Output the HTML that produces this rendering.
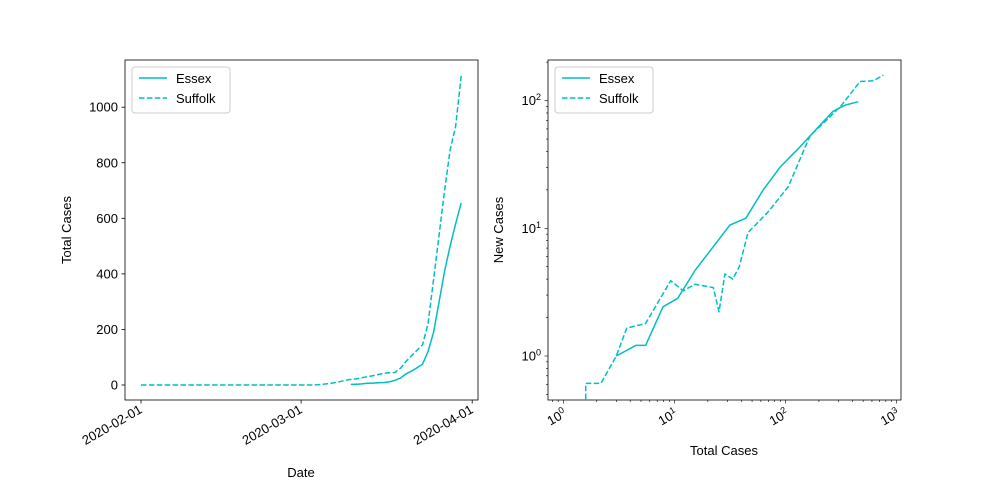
<!DOCTYPE html>
<html><head><meta charset="utf-8"><style>
body{margin:0;background:#fff}
svg{display:block;font-family:"Liberation Sans","DejaVu Sans",sans-serif}
</style></head><body>
<svg id="fig" width="1000" height="500" viewBox="0 0 1000 500">
<rect width="1000" height="500" fill="#fff"/>
</svg>
<script>
// ---- Left chart data (daily cumulative cases, day index from 2020-02-01) ----
const suffolkDays = [0,5,10,15,20,25,30,31,32,33,34,35,36,37,38,39,40,41,42,43,44,45,46,47,48,49,50,51,52,53,54,55,56,57,58];
const suffolkTotals = [0,0,0,0,0,0,0,0,1,3,5,8,12,17,20,22,26,30,33,38,42,44,45,60,85,105,125,144,220,380,540,700,846,930,1113];
const essexDays = [38,39,40,41,42,43,44,45,46,47,48,49,50,51,52,53,54,55,56,57,58];
const essexTotals = [2,3,4,6,7,8,9,11,17,25,40,50,62,75,120,190,300,410,500,580,656];
const leftYTicks = [0,200,400,600,800,1000];
const leftXTickDays = [0,29,60];
const leftXTickLabels = ["2020-02-01","2020-03-01","2020-04-01"];
// ---- Right chart data (total vs new, log-log) ----
const essexLogTotal = [3.0,4.5,5.5,7.9,10.7,15.3,31.6,44,63,89,130,266,343,452];
const essexLogNew = [1.0,1.21,1.21,2.43,2.83,4.66,10.6,12,20,30,42,82,92,98];
const suffolkLogTotal = [1.59,1.59,2.18,3.0,3.72,5.5,9.27,12,15.3,22.4,25.2,28.5,33.5,38.4,46,70,106,166,243,320,468,617,760];
const suffolkLogNew = [0.3,0.61,0.61,1.0,1.65,1.8,3.89,3.24,3.64,3.43,2.22,4.39,4.0,5.0,9.25,13.5,21.2,53,72.6,92,141,143,158];
const rightXDecades = [0,1,2,3];
const rightYDecades = [0,1,2];

const NS="http://www.w3.org/2000/svg";
const svg=document.getElementById('fig');
function mk(tag,attrs,parent){const e=document.createElementNS(NS,tag);for(const k in attrs)e.setAttribute(k,attrs[k]);(parent||svg).appendChild(e);return e;}
const C="#00bfbf";

// Left axes
const L={x0:125,x1:478,y0:60,y1:400};
const lx=d=>141+d*5.52;
const ly=v=>385-v*0.2778;
const gL=mk('g',{});


const cpl=mk('clipPath',{id:'cl'},gL);mk('rect',{x:L.x0,y:L.y0,width:L.x1-L.x0,height:L.y1-L.y0},cpl);
function poly(xs,ys,fx,fy,dash,parent,clip,name){
  const pts=xs.map((x,i)=>fx(x).toFixed(1)+','+fy(ys[i]).toFixed(1)).join(' ');
  const p=mk('polyline',{points:pts,fill:'none',stroke:C,'stroke-width':1.5,'stroke-linejoin':'round','stroke-dasharray':dash?'5.5,2.4':'none','clip-path':'url(#'+clip+')'},parent);
  
  
}
poly(essexDays,essexTotals,lx,ly,false,gL,'cl','essex-line');
poly(suffolkDays,suffolkTotals,lx,ly,true,gL,'cl','suffolk-line');
const frL=mk('rect',{x:L.x0,y:L.y0,width:L.x1-L.x0,height:L.y1-L.y0,fill:'none',stroke:'#000','stroke-width':0.8},gL);


leftYTicks.forEach(v=>{
  const y=ly(v);
  mk('line',{x1:L.x0-3.5,x2:L.x0,y1:y,y2:y,stroke:'#000','stroke-width':0.8},gL);
  const t=mk('text',{x:L.x0-7,y:y+4.5,'text-anchor':'end','font-size':13},gL);t.textContent=v;
  
  
});
leftXTickDays.forEach((d,i)=>{
  const x=lx(d);
  mk('line',{x1:x,x2:x,y1:L.y1,y2:L.y1+3.5,stroke:'#000','stroke-width':0.8},gL);
  const t=mk('text',{x:x+2,y:L.y1+12,'text-anchor':'end','font-size':13,transform:`rotate(-30 ${x+2} ${L.y1+12})`},gL);t.textContent=leftXTickLabels[i];
  
  
});
let t=mk('text',{x:301,y:477,'text-anchor':'middle','font-size':13},gL);t.textContent='Date';


t=mk('text',{x:71,y:230,'text-anchor':'middle','font-size':13,transform:'rotate(-90 71 230)'},gL);t.textContent='Total Cases';



// Right axes
const R={x0:548,x1:901,y0:60,y1:400};
const rx=v=>563.3+Math.log10(v)*111.1;
const ry=v=>356-Math.log10(v)*127.7;
const gR=mk('g',{});


const cp=mk('clipPath',{id:'cr'},gR);mk('rect',{x:R.x0,y:R.y0,width:R.x1-R.x0,height:R.y1-R.y0},cp);
poly(essexLogTotal,essexLogNew,rx,ry,false,gR,'cr','essex-log-line');
poly(suffolkLogTotal,suffolkLogNew,rx,ry,true,gR,'cr','suffolk-log-line');
const frR=mk('rect',{x:R.x0,y:R.y0,width:R.x1-R.x0,height:R.y1-R.y0,fill:'none',stroke:'#000','stroke-width':0.8},gR);


for(let d=-1;d<=3;d++)for(let m=1;m<10;m++){
  const v=m*Math.pow(10,d);const x=rx(v);if(x<R.x0||x>R.x1)continue;
  mk('line',{x1:x,x2:x,y1:R.y1,y2:R.y1+(m==1?3.5:2),stroke:'#000','stroke-width':0.6},gR);
}
for(let d=-1;d<=2;d++)for(let m=1;m<10;m++){
  const v=m*Math.pow(10,d);const y=ry(v);if(y<R.y0||y>R.y1)continue;
  mk('line',{x1:R.x0-(m==1?3.5:2),x2:R.x0,y1:y,y2:y,stroke:'#000','stroke-width':0.6},gR);
}
rightXDecades.forEach(d=>{
  const x=rx(Math.pow(10,d));
  const tt=mk('text',{x:x+4,y:R.y1+16,'text-anchor':'end','font-size':13,transform:`rotate(-30 ${x+4} ${R.y1+16})`},gR);
  tt.innerHTML='10<tspan dy="-5" font-size="9">'+d+'</tspan>';
  
  
});
rightYDecades.forEach(d=>{
  const y=ry(Math.pow(10,d));
  const tt=mk('text',{x:R.x0-7,y:y+4.5,'text-anchor':'end','font-size':13},gR);
  tt.innerHTML='10<tspan dy="-5" font-size="9">'+d+'</tspan>';
  
  
});
t=mk('text',{x:724,y:455,'text-anchor':'middle','font-size':13},gR);t.textContent='Total Cases';


t=mk('text',{x:503,y:230,'text-anchor':'middle','font-size':13,transform:'rotate(-90 503 230)'},gR);t.textContent='New Cases';



// Legends
function legend(x,y,parent,name){
  const g=mk('g',{},parent);
  
  
  mk('rect',{x:x,y:y,width:98,height:46,rx:3,fill:'#fff','fill-opacity':0.8,stroke:'#ccc','stroke-width':1},g);
  mk('line',{x1:x+7,x2:x+35,y1:y+11,y2:y+11,stroke:C,'stroke-width':1.5},g);
  mk('line',{x1:x+7,x2:x+35,y1:y+31,y2:y+31,stroke:C,'stroke-width':1.5,'stroke-dasharray':'5.5,2.4'},g);
  let a=mk('text',{x:x+44,y:y+16,'font-size':13},g);a.textContent='Essex';
  
  
  a=mk('text',{x:x+44,y:y+36,'font-size':13},g);a.textContent='Suffolk';
  
  
}
legend(132,67,gL,'left-legend');
legend(555,67,gR,'right-legend');
</script>
</body></html>
